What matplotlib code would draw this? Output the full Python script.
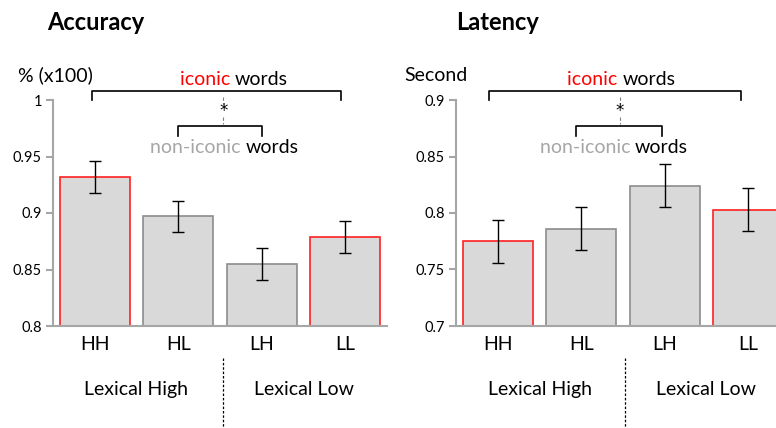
import matplotlib.pyplot as plt
import matplotlib.transforms as mtrans

plt.rcParams['font.family'] = ['Lato', 'DejaVu Sans']

conds = ['HH', 'HL', 'LH', 'LL']
acc_vals = [0.932, 0.897, 0.855, 0.879]
acc_err = [0.014, 0.014, 0.014, 0.014]
lat_vals = [0.775, 0.786, 0.824, 0.803]
lat_err = [0.019, 0.019, 0.019, 0.019]
edge_cols = ['#ff2020', '#8c8c8c', '#8c8c8c', '#ff2020']
groups = ['Lexical High', 'Lexical Low']

W, H = 776, 428
fig = plt.figure(figsize=(W / 100, H / 100), dpi=100)


def px_axes(x0, y0, w, h):
    return fig.add_axes([x0 / W, 1 - (y0 + h) / H, w / W, h / H])


def panel(ax, vals, errs, ylim, ticks, ticklabels, title, ylabel,
          title_x, ylabel_x, br1, br2, star_x, sep_x, icon_x, non_x):
    x = range(len(conds))
    ax.bar(x, vals, width=0.84, color='#d9d9d9', edgecolor=edge_cols, linewidth=1.2, zorder=2)
    ax.errorbar(x, vals, yerr=errs, fmt='none', ecolor='black', elinewidth=1,
                capsize=4.5, capthick=1, zorder=3)
    ax.set_xlim(-0.5, 3.5)
    ax.set_ylim(*ylim)
    ax.set_yticks(ticks)
    ax.set_yticklabels(ticklabels, fontsize=10.5)
    ax.set_xticks([])
    for s in ['top', 'right']:
        ax.spines[s].set_visible(False)
    for s in ['left', 'bottom']:
        ax.spines[s].set_color('#a6a6a6')
        ax.spines[s].set_linewidth(1.5)
    ax.tick_params(axis='y', color='#a6a6a6', width=1.5, length=5, pad=3)

    tr = mtrans.blended_transform_factory(ax.transData, ax.transAxes)
    for i, c in enumerate(conds):
        ax.text(i, -0.08, c, transform=tr, ha='center', va='center', fontsize=14)
    ax.text(0.5, -0.28, groups[0], transform=tr, ha='center', va='center', fontsize=14)
    ax.text(2.5, -0.28, groups[1], transform=tr, ha='center', va='center', fontsize=14)
    ax.plot([sep_x, sep_x], [-0.14, -0.46], transform=tr, color='black', lw=0.9,
            ls=(0, (2, 1.5)), clip_on=False)

    # brackets
    a, b = br1
    ax.plot([a, a, b, b], [1.0, 1.04, 1.04, 1.0], transform=tr, color='black', lw=1.2, clip_on=False)
    a, b = br2
    ax.plot([a, a, b, b], [0.84, 0.885, 0.885, 0.84], transform=tr, color='black', lw=1.2, clip_on=False)
    ax.plot([star_x, star_x], [1.013, 0.98], transform=tr, color='#808080', lw=0.8,
            ls=(0, (3, 2)), clip_on=False)
    ax.plot([star_x, star_x], [0.925, 0.895], transform=tr, color='#808080', lw=0.8,
            ls=(0, (3, 2)), clip_on=False)
    ax.text(star_x, 0.95, '*', transform=tr, ha='center', va='center', fontsize=12,
            family='DejaVu Sans')

    t1 = ax.text(icon_x, 1.09, 'iconic ', transform=tr, ha='left', va='center',
                 fontsize=14, color='#ff0000')
    ax.annotate('words', xy=(1, 0.5), xycoords=t1, ha='left', va='center',
                fontsize=14, color='black')
    t2 = ax.text(non_x, 0.79, 'non-iconic ', transform=tr, ha='left', va='center',
                 fontsize=14, color='#a6a6a6')
    ax.annotate('words', xy=(1, 0.5), xycoords=t2, ha='left', va='center',
                fontsize=14, color='black')

    ax.text(title_x, 1.345, title, transform=ax.transAxes, ha='left', va='center',
            fontsize=17, fontweight='bold')
    ax.text(ylabel_x, 1.11, ylabel, transform=ax.transAxes, ha='left', va='center',
            fontsize=14)


ax1 = px_axes(53, 100, 334, 226)
panel(ax1, acc_vals, acc_err, (0.8, 1.0), [0.8, 0.85, 0.9, 0.95, 1.0],
      ['0.8', '0.85', '0.9', '0.95', '1'], 'Accuracy', '% (x100)',
      -0.018, -0.105, (-0.03, 2.95), (1.0, 2.0), 1.54, 1.54, 1.02, 0.66)

ax2 = px_axes(456, 100, 334, 226)
panel(ax2, lat_vals, lat_err, (0.7, 0.9), [0.7, 0.75, 0.8, 0.85, 0.9],
      ['0.7', '0.75', '0.8', '0.85', '0.9'], 'Latency', 'Second',
      0.0, -0.156, (-0.1, 2.91), (0.94, 1.97), 1.46, 1.52, 0.83, 0.5)

fig.savefig('out.png', dpi=100)
